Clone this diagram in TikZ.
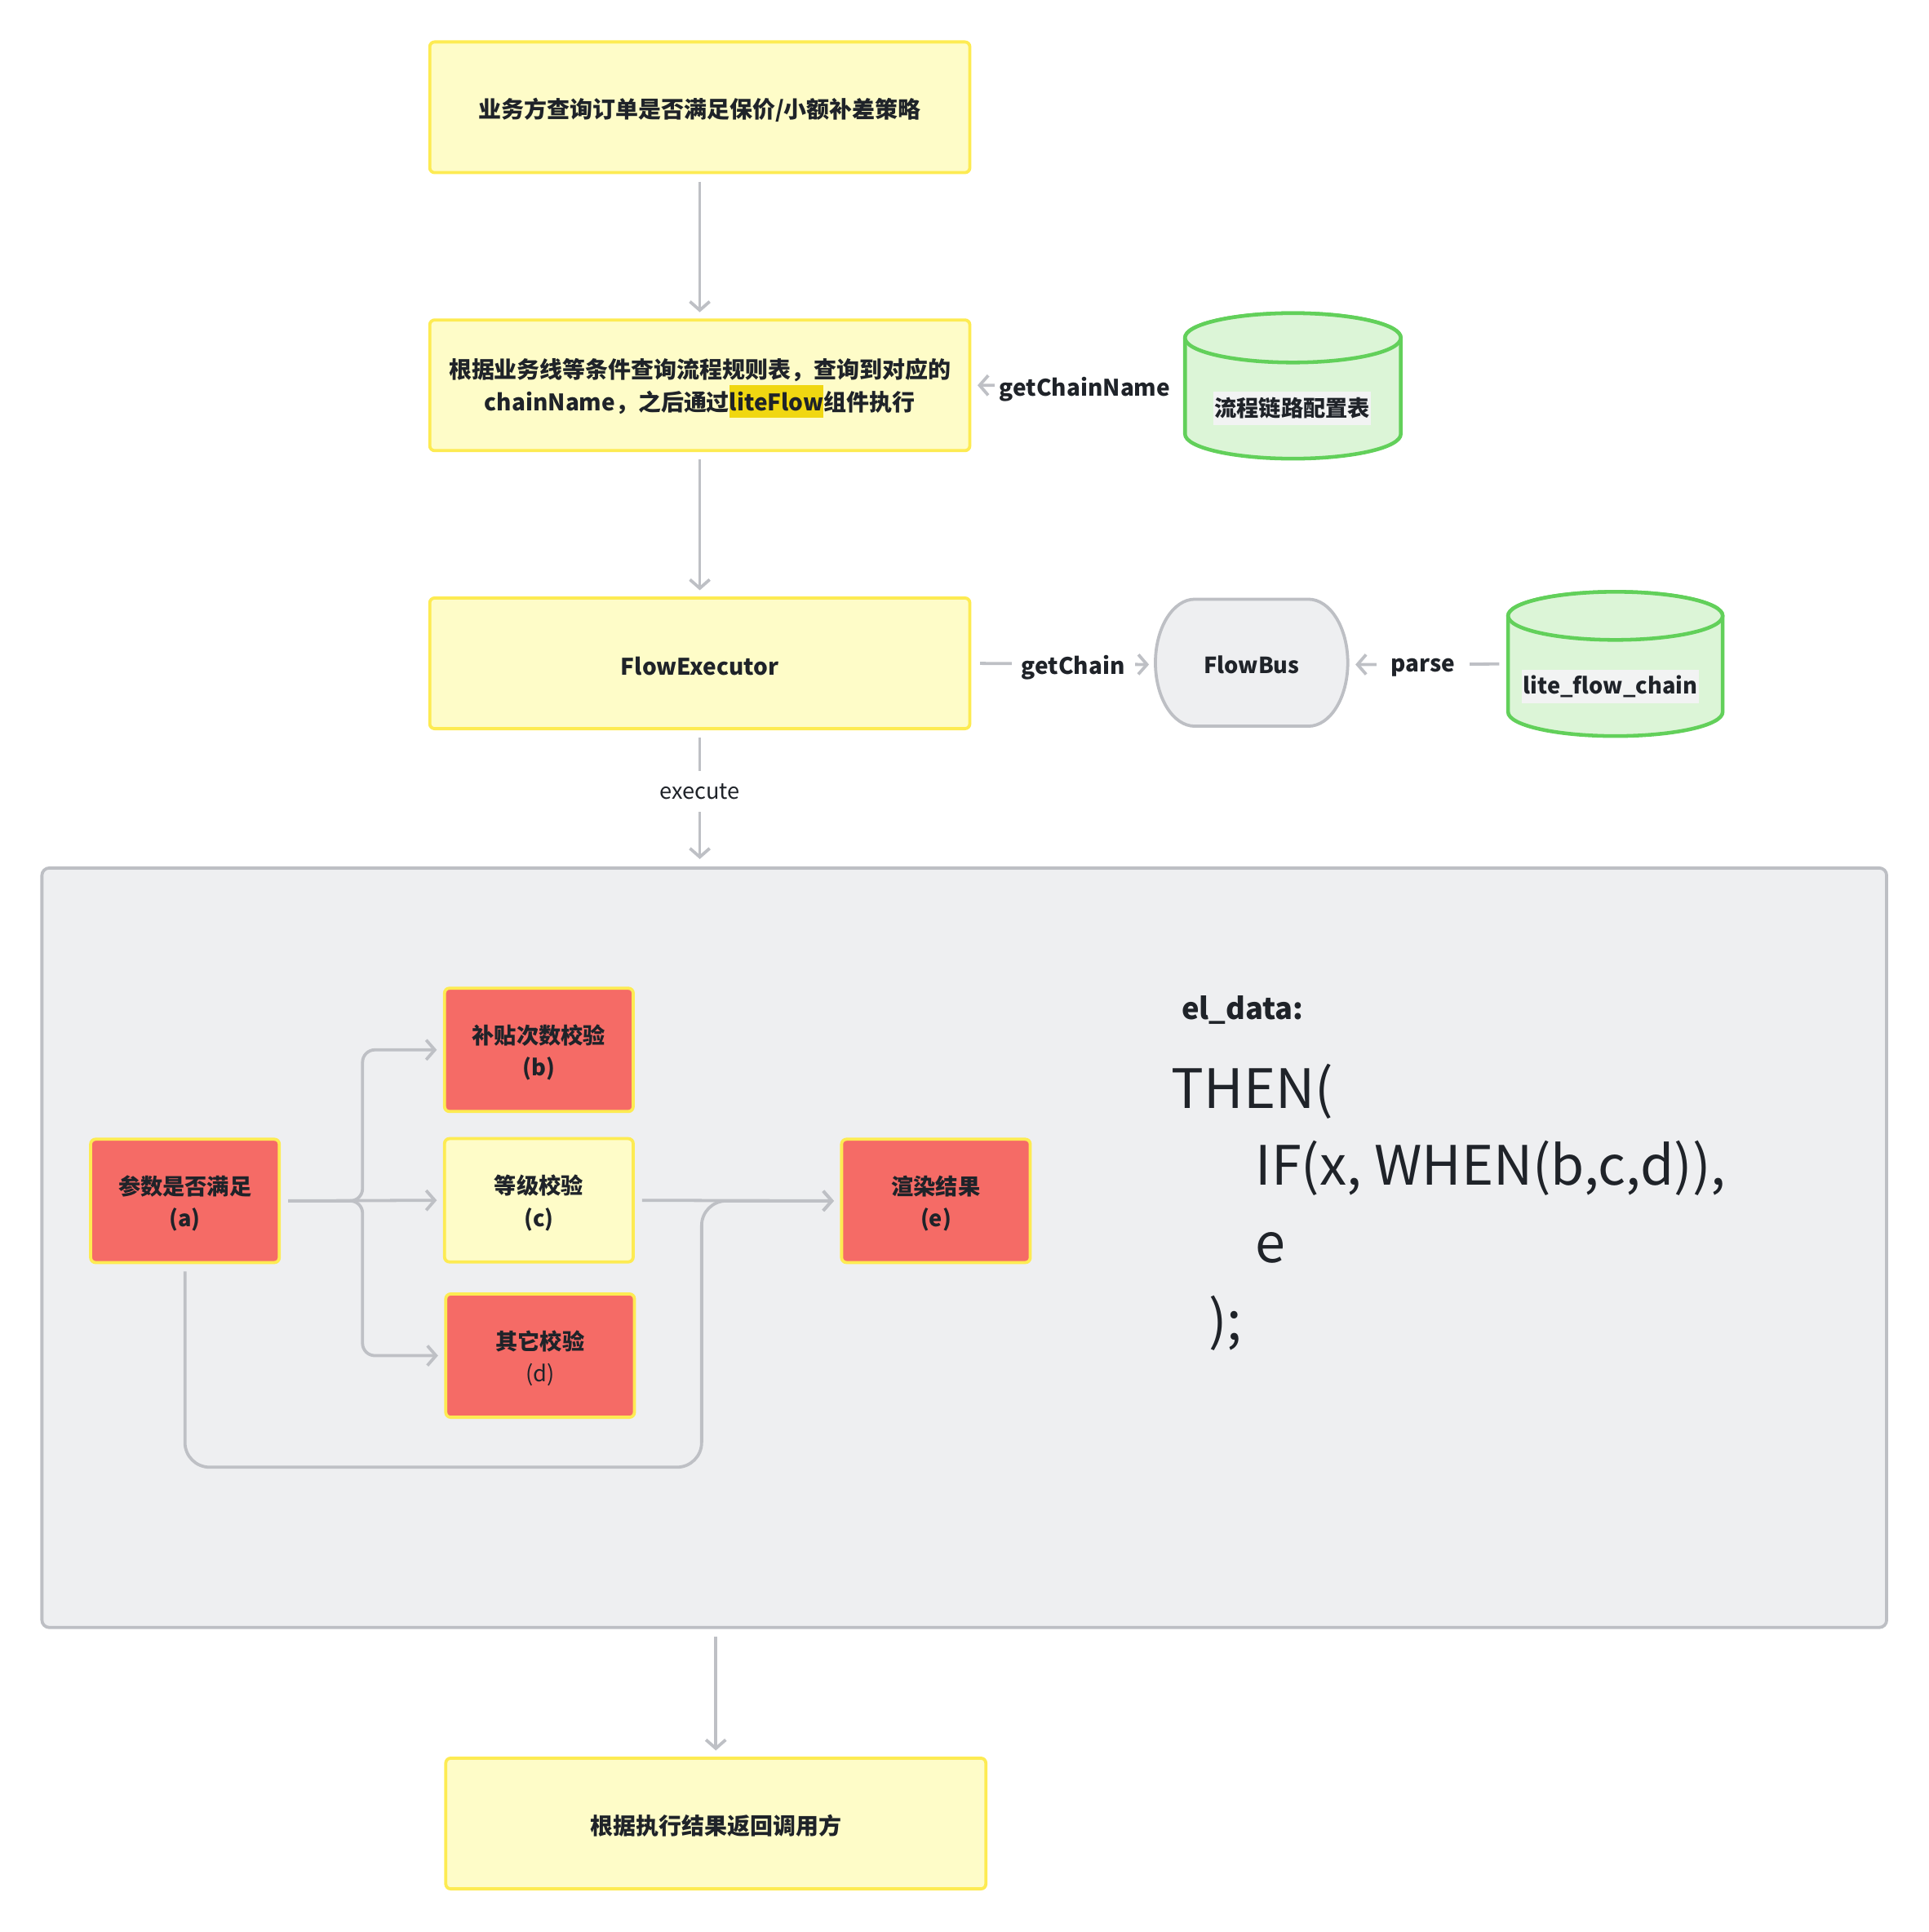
\documentclass[tikz,border=0pt]{standalone}
\usepackage{fontspec}
\setmainfont{Noto Sans CJK SC}
\usetikzlibrary{arrows.meta,calc}
\definecolor{txt}{HTML}{1F2329}
\definecolor{yfill}{HTML}{FEFCC8}
\definecolor{ybord}{HTML}{FDEB52}
\definecolor{rfill}{HTML}{F56B66}
\definecolor{gfill}{HTML}{DCF5D7}
\definecolor{gbord}{HTML}{62D05A}
\definecolor{cfill}{HTML}{EEEFF1}
\definecolor{cbord}{HTML}{BDBFC4}
\definecolor{lc}{HTML}{BEC0C5}
\definecolor{hlc}{HTML}{F0D711}
\definecolor{dbbg}{HTML}{F2F3F3}
\newcommand\hlword[1]{{\setlength{\fboxsep}{0pt}\colorbox{hlc}{\rule[-5pt]{0pt}{26pt}#1}}}
\newcommand\topfix{\rule{0pt}{20pt}}
\begin{document}
\begin{tikzpicture}[x=1pt,y=1pt,
  basebox/.style={draw=ybord, line width=2.5pt, rounded corners=4pt, text=txt,
    font=\bfseries\fontsize{18.5}{27}\selectfont, align=center, inner sep=0pt},
  bigbox/.style={basebox, fill=yfill, minimum width=438pt, minimum height=106pt},
  ybox/.style={basebox, fill=yfill, minimum width=153pt, minimum height=100pt, font=\bfseries\fontsize{18}{26}\selectfont},
  rbox/.style={ybox, fill=rfill},
  arr/.style={draw=lc, line width=2.5pt, -{Straight Barb[length=7pt,width=16pt]}, shorten <=6pt, shorten >=5pt},
  lbl/.style={fill=white, text=txt, font=\bfseries\fontsize{18.5}{24}\selectfont, inner ysep=6pt, yshift=-3pt},
  cylst/.style={draw=gbord, fill=gfill, line width=3pt},
  dblbl/.style={fill=dbbg, text=txt, font=\bfseries\fontsize{18}{24}\selectfont, inner xsep=1pt, inner ysep=0pt, minimum height=27pt},
  grpst/.style={draw=cbord, fill=cfill, line width=2.5pt, rounded corners=6pt, minimum width=1496pt, minimum height=616pt, inner sep=0pt},
  code/.style={anchor=base west, text=txt, inner sep=0pt, font=\fontsize{44}{52}\selectfont}
]
\useasboundingbox (0,0) rectangle (1564,-1567);

% main flow boxes
\node[bigbox] (b1) at (567.5,-87) {\topfix 业务方查询订单是否满足保价/小额补差策略};
\node[bigbox] (b2) at (567.5,-312.5) {\topfix 根据业务线等条件查询流程规则表，查询到对应的\\chainName，之后通过\hlword{liteFlow}组件执行};
\node[bigbox] (b3) at (567.5,-538) {\topfix FlowExecutor};
\node[bigbox] (fin) at (580.5,-1479) {\topfix 根据执行结果返回调用方};

% cylinder 1
\filldraw[cylst] (961,-274) -- (961,-352) arc[start angle=180,end angle=360,x radius=87.5pt,y radius=20pt] -- (1136,-274) arc[start angle=0,end angle=180,x radius=87.5pt,y radius=20pt] -- cycle;
\draw[cylst] (1048.5,-274) ellipse[x radius=87.5pt,y radius=20pt];
\node[minimum width=177pt, minimum height=120pt, inner sep=0pt] (cyl1) at (1048.5,-313) {};
\node[dblbl] (cyl1t) at (1048,-331) {流程链路配置表};

% cylinder 2
\filldraw[cylst] (1223,-499.5) -- (1223,-577.5) arc[start angle=180,end angle=360,x radius=87pt,y radius=19.5pt] -- (1397,-499.5) arc[start angle=0,end angle=180,x radius=87pt,y radius=19.5pt] -- cycle;
\draw[cylst] (1310,-499.5) ellipse[x radius=87pt,y radius=19.5pt];
\node[minimum width=176pt, minimum height=119pt, inner sep=0pt] (cyl2) at (1310,-538.5) {};
\node[dblbl] (cyl2t) at (1306,-557) {lite\_flow\_chain};

% FlowBus
\filldraw[draw=cbord, fill=cfill, line width=2.5pt] (969,-486) -- (1061,-486)
  arc[start angle=90,end angle=-90,x radius=32pt,y radius=51.5pt] -- (969,-589)
  arc[start angle=270,end angle=90,x radius=32pt,y radius=51.5pt] -- cycle;
\node[text=txt, font=\bfseries\fontsize{18}{24}\selectfont, minimum width=156pt, minimum height=103pt, inner sep=0pt] (fb) at (1015,-539) {FlowBus};

% connectors of main flow
\draw[arr] (b1) -- (b2);
\draw[arr] (b2) -- (b3);
\draw[arr, shorten <=9pt] (cyl1.west) -- node[lbl, pos=0.465, inner xsep=4pt] {getChainName} (b2.east);
\draw[arr, shorten <=7pt] (b3.east) -- node[lbl, pos=0.554, inner xsep=8pt] {getChain} (fb.west);
\draw[arr, shorten >=6pt] (cyl2.west) -- node[lbl, pos=0.527, inner xsep=12pt] {parse} (fb.east);

% group
\node[grpst] (grp) at (782,-1012) {};
\draw[arr, shorten >=6pt] (b3.south) -- node[pos=0.44, fill=white, text=txt, font=\fontsize{18}{24}\selectfont, inner ysep=10pt, yshift=-1pt] {execute} (b3.south |- grp.north);
\draw[arr] (grp.south -| fin.north) -- (fin.north);

% inner nodes
\node[rbox] (a) at (150,-974) {\topfix 参数是否满足\\(a)};
\node[rbox] (b) at (437,-851.5) {\topfix 补贴次数校验\\(b)};
\node[ybox] (c) at (437,-973.5) {\topfix 等级校验\\(c)};
\node[rbox] (d) at (438,-1099.5) {\topfix 其它校验\\{\mdseries(d)}};
\node[rbox] (e) at (759,-974) {\topfix 渲染结果\\(e)};

\coordinate (sp) at (294,-974);
\coordinate (jn) at (569,-974);
\coordinate (lowy) at (0,-1190);
\draw[arr, rounded corners=10pt] (a.east) -- (sp) |- (b.west);
\draw[arr, rounded corners=10pt] (a.east) -- (sp) |- (d.west);
\draw[arr] (a.east) -- (c.west);
\draw[arr] (c.east) -- (e.west);
\draw[arr, rounded corners=20pt] (a.south) -- (a.south |- lowy) -| (jn) -- (e.west);

% code text
\node[anchor=base west, text=txt, inner sep=0pt, font=\bfseries\fontsize{24}{28}\selectfont] (eld) at (958,-827) {el\_data:};
\node[code] (l1) at (950,-899) {THEN(};
\node[code] (l2) at (1018,-961) {IF(x, WHEN(b,c,d)),};
\node[code] (l3) at (1018,-1024) {e};
\node[code] (l4) at (980,-1087) {);};
\end{tikzpicture}
\end{document}
